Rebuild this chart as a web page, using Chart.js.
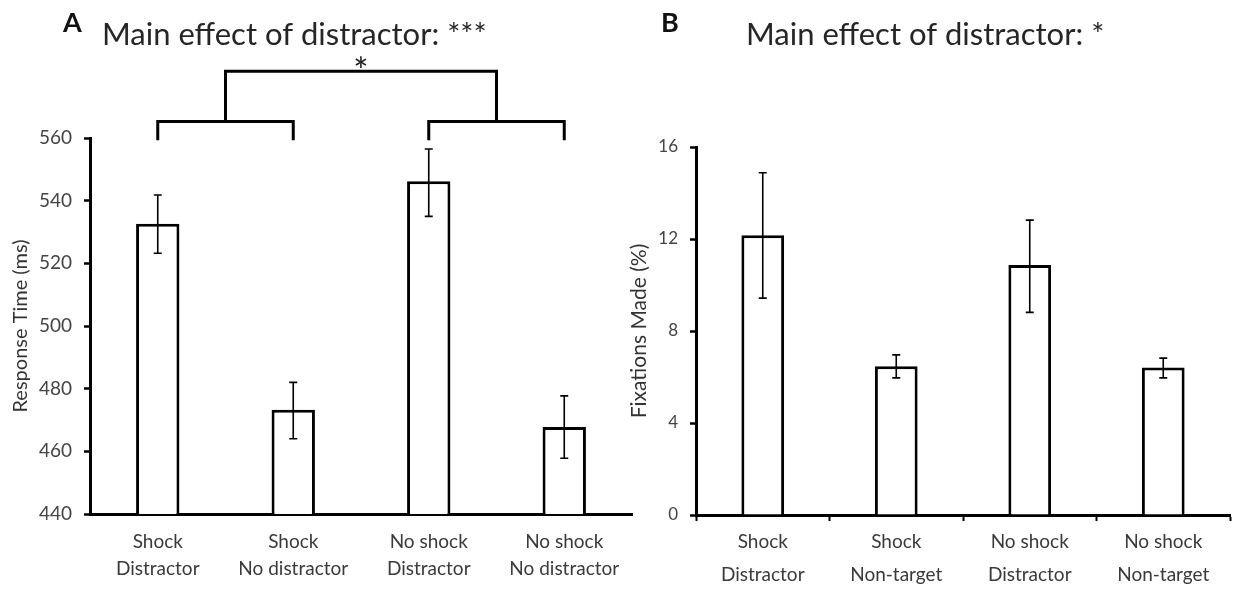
<!DOCTYPE html>
<html>
<head>
<meta charset="utf-8">
<script src="https://cdn.jsdelivr.net/npm/chart.js@4.4.1/dist/chart.umd.min.js"></script>
<style>
  body { margin: 0; background: #fff; width: 1243px; height: 589px; position: relative; overflow: hidden; }
  .panel { position: absolute; top: 0; }
  #panelA { left: 0; }
  #panelB { left: 615px; }
</style>
</head>
<body>
<div class="panel" id="panelA"><canvas id="chartA" width="640" height="589"></canvas></div>
<div class="panel" id="panelB"><canvas id="chartB" width="628" height="589"></canvas></div>
<script>
// ---- data ----
const rtLabels = [["Shock", "Distractor"], ["Shock", "No distractor"], ["No shock", "Distractor"], ["No shock", "No distractor"]];
const rtMeans = [532.6, 473.3, 546.2, 467.8];
const rtErrLow = [523.2, 464.0, 535.0, 457.8];
const rtErrHigh = [541.8, 482.0, 556.5, 477.7];
const rtAxis = { min: 440, max: 560, step: 20 };

const fixLabels = [["Shock", "Distractor"], ["Shock", "Non-target"], ["No shock", "Distractor"], ["No shock", "Non-target"]];
const fixMeans = [12.16, 6.47, 10.87, 6.41];
const fixErrLow = [9.43, 5.96, 8.81, 5.96];
const fixErrHigh = [14.88, 6.96, 12.82, 6.82];
const fixAxis = { min: 0, max: 16, step: 4 };

// significance brackets for panel A (category index, value on y axis)
const rtBracketLow = 565.3;   // level of the two pair brackets
const rtBracketLeg = 559.3;   // where their legs end
const rtBracketTop = 581.3;   // level of the bracket across pairs
const rtStarAt = 583.6;
const rtPairs = [[0, 1], [2, 3]];

const FONT = "Lato, 'Open Sans', sans-serif";

// ---- plugins ----
const errorBars = {
  id: "errorBars",
  afterDatasetsDraw(chart, args, opts) {
    const ctx = chart.ctx;
    const meta = chart.getDatasetMeta(0);
    const y = chart.scales.y;
    ctx.save();
    ctx.strokeStyle = "#000";
    ctx.lineWidth = 1.6;
    meta.data.forEach((bar, i) => {
      const top = y.getPixelForValue(opts.high[i]);
      const bot = y.getPixelForValue(opts.low[i]);
      ctx.beginPath();
      ctx.moveTo(bar.x, top);
      ctx.lineTo(bar.x, bot);
      ctx.moveTo(bar.x - 4, top);
      ctx.lineTo(bar.x + 4, top);
      ctx.moveTo(bar.x - 4, bot);
      ctx.lineTo(bar.x + 4, bot);
      ctx.stroke();
    });
    ctx.restore();
  }
};

const brackets = {
  id: "brackets",
  afterDraw(chart, args, opts) {
    if (!opts.show) return;
    const ctx = chart.ctx;
    const x = chart.scales.x;
    const y = chart.scales.y;
    const low = y.getPixelForValue(rtBracketLow);
    const leg = y.getPixelForValue(rtBracketLeg);
    const top = y.getPixelForValue(rtBracketTop);
    ctx.save();
    ctx.strokeStyle = "#000";
    ctx.lineWidth = 3;
    const mids = [];
    rtPairs.forEach(([a, b]) => {
      const xa = x.getPixelForValue(a);
      const xb = x.getPixelForValue(b);
      ctx.beginPath();
      ctx.moveTo(xa, leg);
      ctx.lineTo(xa, low);
      ctx.lineTo(xb, low);
      ctx.lineTo(xb, leg);
      ctx.stroke();
      mids.push((xa + xb) / 2);
    });
    ctx.beginPath();
    ctx.moveTo(mids[0], low);
    ctx.lineTo(mids[0], top);
    ctx.lineTo(mids[1], top);
    ctx.lineTo(mids[1], low);
    ctx.stroke();
    ctx.fillStyle = "#222";
    ctx.font = "36px " + FONT;
    ctx.textAlign = "center";
    ctx.textBaseline = "middle";
    ctx.fillText("*", (mids[0] + mids[1]) / 2, y.getPixelForValue(rtStarAt) + 8);
    ctx.restore();
  }
};

const panelText = {
  id: "panelText",
  afterDraw(chart, args, opts) {
    const ctx = chart.ctx;
    ctx.save();
    ctx.textBaseline = "alphabetic";
    ctx.textAlign = "left";
    ctx.fillStyle = "#111";
    ctx.font = "bold 27px " + FONT;
    ctx.fillText(opts.letter, opts.letterX, 32);
    ctx.fillStyle = "#262626";
    ctx.font = "31px " + FONT;
    ctx.fillText(opts.title, opts.titleX, 45);
    ctx.restore();
  }
};

function makeChart(id, cfg) {
  return new Chart(document.getElementById(id), {
    type: "bar",
    data: {
      labels: cfg.labels,
      datasets: [{
        data: cfg.means,
        backgroundColor: "#fff",
        borderColor: "#000",
        borderWidth: 3,
        barPercentage: 0.64,
        categoryPercentage: 0.5
      }]
    },
    options: {
      responsive: false,
      animation: false,
      layout: { padding: cfg.padding },
      scales: {
        x: {
          afterFit(scale) { scale.height = cfg.xHeight; },
          border: { display: true, color: "#000", width: 3 },
          grid: {
            display: cfg.xTicks,
            drawOnChartArea: false,
            drawTicks: cfg.xTicks,
            tickLength: 6,
            tickWidth: 2,
            tickColor: "#000",
            offset: true
          },
          ticks: {
            color: "#3a3a3a",
            padding: cfg.xPad,
            maxRotation: 0,
            font: { family: FONT, size: 19, lineHeight: cfg.xLine }
          }
        },
        y: {
          min: cfg.axis.min,
          max: cfg.axis.max,
          afterFit(scale) { scale.width = cfg.yWidth; },
          border: { display: true, color: "#000", width: 3 },
          grid: {
            drawOnChartArea: false,
            drawTicks: true,
            tickLength: 6,
            tickWidth: 2.5,
            tickColor: "#000"
          },
          ticks: {
            stepSize: cfg.axis.step,
            color: "#444",
            padding: 12,
            font: { family: FONT, size: cfg.yFont }
          },
          title: {
            display: true,
            text: cfg.yTitle,
            color: "#333",
            padding: { top: cfg.yTitlePad, bottom: 0 },
            font: { family: FONT, size: cfg.yTitleFont }
          }
        }
      },
      plugins: {
        legend: { display: false },
        tooltip: { enabled: false },
        errorBars: { low: cfg.low, high: cfg.high },
        brackets: { show: cfg.brackets },
        panelText: cfg.text
      }
    },
    plugins: [errorBars, brackets, panelText]
  });
}

makeChart("chartA", {
  labels: rtLabels, means: rtMeans, low: rtErrLow, high: rtErrHigh, axis: rtAxis,
  padding: { top: 138, left: 0, right: 8, bottom: 0 },
  xHeight: 75, yWidth: 90, xTicks: false, xPad: 15, xLine: 1.4, yFont: 19,
  yTitle: "Response Time (ms)", yTitleFont: 20, yTitlePad: 9, brackets: true,
  text: { letter: "A", letterX: 63, title: "Main effect of distractor: ***", titleX: 102 }
});

makeChart("chartB", {
  labels: fixLabels, means: fixMeans, low: fixErrLow, high: fixErrHigh, axis: fixAxis,
  padding: { top: 147, left: 0, right: 13, bottom: 0 },
  xHeight: 74, yWidth: 81, xTicks: true, xPad: 4, xLine: 1.74, yFont: 17,
  yTitle: "Fixations Made (%)", yTitleFont: 21, yTitlePad: 12, brackets: false,
  text: { letter: "B", letterX: 46, title: "Main effect of distractor: *", titleX: 131 }
});
</script>
</body>
</html>
